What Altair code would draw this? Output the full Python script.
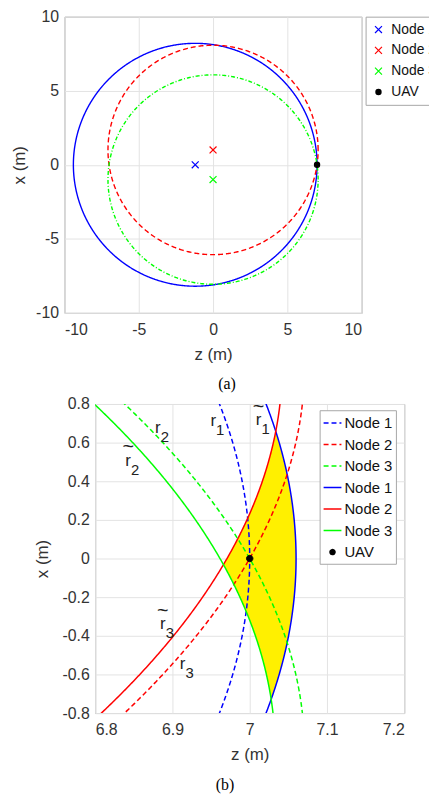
import numpy as np
import pandas as pd
import altair as alt

# ---------------- data ----------------
node_names = ["Node 1", "Node 2", "Node 3"]
node_z = [-1.2, 0.0, 0.0]
node_x = [0.0, 1.0, -1.0]
uav_z = [7.0]
uav_x = [0.0]
true_range = [8.2, 7.071, 7.071]      # r1, r2, r3
est_range = [8.26, 7.042, 7.033]      # r~1, r~2, r~3
node_colors = ["#0000ff", "#ff0000", "#00ff00"]

a_ticks = [-10, -5, 0, 5, 10]
b_zticks = [6.8, 6.9, 7.0, 7.1, 7.2]
b_xticks = [-0.8, -0.6, -0.4, -0.2, 0.0, 0.2, 0.4, 0.6, 0.8]

# range labels in panel (b)
lab_z = [6.9529, 7.0115, 6.8812, 6.8427, 6.9132, 6.8876]
lab_x = [0.7097, 0.7149, 0.6754, 0.5046, -0.5467, -0.3415]
lab_sub = ["1", "1", "2", "2", "3", "3"]
lab_tilde = [False, True, False, True, False, True]

FONT = "Liberation Sans"
SERIF = "Liberation Serif"
TXT = "#333333"
SPACER_W = 31

# ---------------- panel (a) ----------------
a_dash = [[1, 0], [5, 3], [4, 2, 1, 2]]
theta = np.linspace(0, 2 * np.pi, 721)
a_layers = []
for k in range(3):
    dfc = pd.DataFrame({
        "i": np.arange(len(theta)),
        "zc": node_z[k] + true_range[k] * np.cos(theta),
        "xc": node_x[k] + true_range[k] * np.sin(theta),
    })
    a_layers.append(
        alt.Chart(dfc).mark_line(strokeWidth=1.4, color=node_colors[k], strokeDash=a_dash[k]).encode(
            x=alt.X("zc:Q"), y=alt.Y("xc:Q"), order=alt.Order("i:Q")
        )
    )

a_keys = node_names + ["UAV"]
cross = "M-1,-1L1,1M-1,1L1,-1"
dot_a = "M-0.75,0A0.75,0.75,0,1,0,0.75,0A0.75,0.75,0,1,0,-0.75,0Z"
df_pts_a = pd.DataFrame({"key": a_keys, "zc": node_z + uav_z, "xc": node_x + uav_x})
leg_a = alt.Legend(title=None, orient="none", legendX=304, legendY=0,
                   labelFont=FONT, labelFontSize=14, labelColor="#111111",
                   symbolSize=49, symbolStrokeWidth=1.2, strokeColor="#a6a6a6",
                   fillColor="white", padding=6, rowPadding=7, labelOffset=6)
pts_a = alt.Chart(df_pts_a).mark_point(size=49, strokeWidth=1.2, opacity=1).encode(
    x=alt.X("zc:Q"), y=alt.Y("xc:Q"),
    shape=alt.Shape("key:N", scale=alt.Scale(domain=a_keys, range=[cross] * 3 + [dot_a]), legend=leg_a),
    stroke=alt.Stroke("key:N", scale=alt.Scale(domain=a_keys, range=node_colors + ["black"]), legend=leg_a),
    fill=alt.Fill("key:N", scale=alt.Scale(domain=a_keys, range=["transparent"] * 3 + ["black"]), legend=leg_a),
)

cap_a = alt.Chart(pd.DataFrame({"t": ["(a)"]})).mark_text(
    font=SERIF, fontSize=16, color="black", baseline="middle", align="center"
).encode(x=alt.value(164), y=alt.value(371), text="t:N")

ax_a = dict(values=a_ticks, labelExpr="'' + datum.value")
panel_a = alt.layer(*a_layers, pts_a, cap_a).encode(
    x=alt.X("zc:Q", title="z (m)", scale=alt.Scale(domain=[-10, 10], nice=False, zero=False),
            axis=alt.Axis(labelPadding=9, titlePadding=9, **ax_a)),
    y=alt.Y("xc:Q", title="x (m)", scale=alt.Scale(domain=[-10, 10], nice=False, zero=False),
            axis=alt.Axis(labelPadding=6, titlePadding=7, **ax_a)),
).properties(width=300, height=299)

# ---------------- panel (b) ----------------
b_keys = ["Node 1", "Node 2", "Node 3", "Node 1 ", "Node 2 ", "Node 3 ", "UAV"]
xs = np.linspace(-0.85, 0.85, 681)
rows = []
for k in range(3):
    for radius, key in ((true_range[k], b_keys[k]), (est_range[k], b_keys[k + 3])):
        zc = node_z[k] + np.sqrt(radius ** 2 - (xs - node_x[k]) ** 2)
        rows.append(pd.DataFrame({"key": key, "zc": zc, "xc": xs}))
df_lines = pd.concat(rows, ignore_index=True)

# yellow region: inside estimated circle 1, outside estimated circles 2 and 3
xa = np.linspace(-0.8, 0.8, 1601)
z1 = node_z[0] + np.sqrt(est_range[0] ** 2 - (xa - node_x[0]) ** 2)
z2 = node_z[1] + np.sqrt(est_range[1] ** 2 - (xa - node_x[1]) ** 2)
z3 = node_z[2] + np.sqrt(est_range[2] ** 2 - (xa - node_x[2]) ** 2)
zl = np.maximum(z2, z3)
keep = zl <= z1
df_area = pd.DataFrame({"xc": xa[keep], "zl": zl[keep], "zr": z1[keep]})

dash_b = [5, 3]
dot_b = "M-0.28,0A0.28,0.28,0,1,0,0.28,0A0.28,0.28,0,1,0,-0.28,0Z"
leg_b = alt.Legend(title=None, orient="none", legendX=226.6 + SPACER_W, legendY=6.3,
                   labelFont=FONT, labelFontSize=15, labelColor="#111111",
                   symbolSize=324, symbolStrokeWidth=1.5, strokeColor="#a6a6a6",
                   fillColor="white", padding=3, rowPadding=3.7, labelOffset=2)
sc_stroke = alt.Scale(domain=b_keys, range=node_colors + node_colors + ["black"])
sc_dash = alt.Scale(domain=b_keys, range=[dash_b] * 3 + [[1, 0]] * 4)
sc_shape = alt.Scale(domain=b_keys, range=["stroke"] * 6 + [dot_b])
sc_fill = alt.Scale(domain=b_keys, range=["transparent"] * 6 + ["black"])

area_b = alt.Chart(df_area).mark_area(orient="horizontal", color="#fff000", clip=True, opacity=1).encode(
    y=alt.Y("xc:Q"), x=alt.X("zl:Q"), x2="zr:Q"
)
lines_b = alt.Chart(df_lines).mark_line(strokeWidth=1.5, clip=True).encode(
    x=alt.X("zc:Q"), y=alt.Y("xc:Q"), order=alt.Order("xc:Q"),
    stroke=alt.Stroke("key:N", scale=sc_stroke, legend=leg_b),
    strokeDash=alt.StrokeDash("key:N", scale=sc_dash, legend=leg_b),
)
df_uav = pd.DataFrame({"key": ["UAV"], "zc": uav_z, "xc": uav_x})
uav_b = alt.Chart(df_uav).mark_point(size=540, opacity=1, strokeWidth=1).encode(
    x=alt.X("zc:Q"), y=alt.Y("xc:Q"),
    stroke=alt.Stroke("key:N", scale=sc_stroke, legend=leg_b),
    fill=alt.Fill("key:N", scale=sc_fill, legend=leg_b),
    shape=alt.Shape("key:N", scale=sc_shape, legend=leg_b),
)
df_lab = pd.DataFrame({"zc": lab_z, "xc": lab_x, "sub": lab_sub, "tilde": lab_tilde})
lab_r = alt.Chart(df_lab).mark_text(font=FONT, fontSize=17, color="#222222", baseline="middle", align="center").encode(
    x="zc:Q", y="xc:Q", text=alt.value("r"))
lab_s = alt.Chart(df_lab).mark_text(font=FONT, fontSize=15, color="#222222", baseline="middle", align="center",
                                    dx=7, dy=9).encode(x="zc:Q", y="xc:Q", text="sub:N")
lab_t = alt.Chart(df_lab).transform_filter("datum.tilde").mark_text(
    font=FONT, fontSize=20, color="#222222", baseline="middle", align="center", dy=-14).encode(
    x="zc:Q", y="xc:Q", text=alt.value("~"))
cap_b = alt.Chart(pd.DataFrame({"t": ["(b)"]})).mark_text(
    font=SERIF, fontSize=16, color="black", baseline="middle", align="center"
).encode(x=alt.value(131), y=alt.value(385), text="t:N")

panel_b = alt.layer(area_b, lines_b, uav_b, lab_r, lab_s, lab_t, cap_b).encode(
    x=alt.X("zc:Q", title="z (m)", scale=alt.Scale(domain=[6.8, 7.2], nice=False, zero=False),
            axis=alt.Axis(values=b_zticks, labelExpr="'' + datum.value", labelPadding=9, titlePadding=9)),
    y=alt.Y("xc:Q", title="x (m)", scale=alt.Scale(domain=[-0.8, 0.8], nice=False, zero=False),
            axis=alt.Axis(values=b_xticks, labelExpr="'' + datum.value", labelPadding=6, titlePadding=11)),
).properties(width=312, height=312)

spacer = alt.Chart(pd.DataFrame({"v": [0]})).mark_point(opacity=0).encode(
    x=alt.value(0), y=alt.value(0)
).properties(width=SPACER_W, height=1, view=alt.ViewBackground(stroke="transparent"))

chart = alt.vconcat(
    panel_a,
    alt.hconcat(spacer, panel_b, spacing=0, bounds="flush"),
    spacing=2,
).resolve_scale(
    stroke="independent", fill="independent", shape="independent", strokeDash="independent"
).resolve_legend(
    stroke="independent", fill="independent", shape="independent", strokeDash="independent"
).properties(
    padding={"left": 2, "top": -4, "right": -15, "bottom": 0}
).configure_view(stroke="#999999", strokeWidth=1).configure_axis(
    grid=True, gridColor="#e3e3e3", gridWidth=1, ticks=False, domain=False,
    labelFont=FONT, labelFontSize=16, labelColor=TXT,
    titleFont=FONT, titleFontSize=17, titleFontWeight="normal", titleColor=TXT,
)

chart.save("out.html", embed_options={"renderer": "svg", "actions": False})
